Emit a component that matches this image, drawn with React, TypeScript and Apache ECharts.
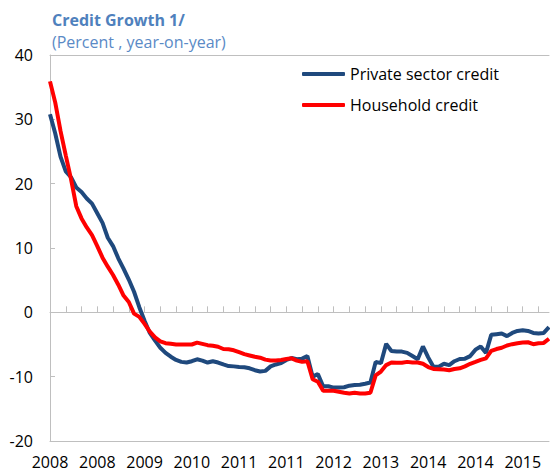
import React, { useEffect, useRef } from "react";
import * as echarts from "echarts";

const years: number[] = [2008, 2009, 2010, 2011, 2012, 2013, 2014, 2015];
const monthsPerYear = 12;
const categories: string[] = years.flatMap((y) => Array.from({ length: monthsPerYear }, () => String(y)));

const privateSectorCredit: number[] = [
  30.8, 27.8, 24.2, 21.9, 21.0, 19.4, 18.7, 17.7, 16.9, 15.4, 13.9, 11.6,
  10.3, 8.4, 6.8, 5.1, 3.2, 0.8, -1.3, -3.2, -4.4, -5.5, -6.3, -6.9,
  -7.4, -7.7, -7.8, -7.6, -7.3, -7.5, -7.8, -7.6, -7.8, -8.1, -8.35, -8.4,
  -8.5, -8.55, -8.7, -9.0, -9.2, -9.1, -8.4, -8.1, -7.9, -7.4, -7.1, -7.3,
  -7.2, -6.8, -10.0, -9.6, -11.5, -11.5, -11.7, -11.7, -11.65, -11.4, -11.3, -11.25,
  -11.1, -10.9, -7.7, -7.9, -4.9, -6.0, -6.1, -6.1, -6.3, -6.8, -7.3, -5.3,
  -7.0, -8.45, -8.45, -8.0, -8.2, -7.6, -7.25, -7.2, -6.8, -5.8, -5.3, -6.3,
  -3.5, -3.4, -3.3, -3.7, -3.2, -2.9, -2.8, -2.9, -3.2, -3.3, -3.2, -2.3,
];

const householdCredit: number[] = [
  35.9, 32.6, 28.2, 24.4, 20.7, 16.5, 14.6, 13.2, 12.0, 10.3, 8.5, 7.1,
  5.8, 4.3, 2.6, 1.6, -0.2, -0.7, -1.8, -3.0, -3.9, -4.5, -4.8, -4.9,
  -5.0, -5.0, -5.0, -5.0, -4.7, -4.9, -5.1, -5.2, -5.35, -5.7, -5.75, -5.9,
  -6.2, -6.5, -6.7, -6.9, -7.05, -7.35, -7.5, -7.5, -7.4, -7.25, -7.15, -7.5,
  -7.7, -7.6, -10.4, -10.8, -12.2, -12.2, -12.2, -12.35, -12.5, -12.6, -12.5, -12.6,
  -12.6, -12.5, -9.8, -9.2, -8.2, -7.8, -7.85, -7.85, -7.7, -7.8, -7.8, -8.0,
  -8.5, -8.8, -8.85, -8.9, -9.0, -8.8, -8.7, -8.4, -8.0, -7.7, -7.4, -7.15,
  -6.0, -5.7, -5.5, -5.15, -4.95, -4.8, -4.7, -4.65, -4.95, -4.8, -4.75, -4.1,
];

const seriesNames: string[] = ["Private sector credit", "Household credit"];
const titleText = "Credit Growth 1/";
const subtitleText = "(Percent , year-on-year)";

const FONT = "'Open Sans', 'Noto Sans', sans-serif";
const AXIS_GREY = "#BFBFBF";

export default function App() {
  const ref = useRef<HTMLDivElement>(null);

  useEffect(() => {
    if (!ref.current) return;
    const chart = echarts.init(ref.current, undefined, { renderer: "svg" });
    chart.setOption({
      animation: false,
      backgroundColor: "#ffffff",
      title: {
        text: titleText,
        subtext: subtitleText,
        left: 52,
        top: 12,
        itemGap: 6,
        padding: 0,
        textStyle: { fontFamily: FONT, fontSize: 16, fontWeight: "bold", color: "#4F81BD" },
        subtextStyle: { fontFamily: FONT, fontSize: 16, color: "#5A8AC6" },
      },
      legend: {
        orient: "vertical",
        left: 302,
        top: 66,
        itemWidth: 43,
        itemHeight: 4,
        itemGap: 15,
        icon: "roundRect",
        padding: 0,
        data: seriesNames,
        textStyle: { fontFamily: FONT, fontSize: 16, color: "#000000" },
      },
      grid: { left: 50, right: 1, top: 55, bottom: 33, containLabel: false },
      xAxis: [
        {
          type: "category",
          data: categories,
          boundaryGap: false,
          position: "bottom",
          axisLine: { show: true, onZero: false, lineStyle: { color: AXIS_GREY, width: 1 } },
          axisTick: { show: false },
          axisLabel: {
            interval: 8,
            margin: 13,
            lineHeight: 16,
            fontFamily: FONT,
            fontSize: 16,
            color: "#000000",
          },
          splitLine: { show: false },
        },
        {
          type: "category",
          data: categories,
          boundaryGap: false,
          position: "top",
          axisLine: { show: true, onZero: false, lineStyle: { color: AXIS_GREY, width: 1 } },
          axisTick: { show: false },
          axisLabel: { show: false },
          splitLine: { show: false },
        },
        {
          type: "category",
          data: categories,
          boundaryGap: false,
          position: "top",
          axisLine: { show: true, onZero: true, onZeroAxisIndex: 0, lineStyle: { color: AXIS_GREY, width: 1 } },
          axisTick: { show: true, interval: 2, length: 6, inside: false, lineStyle: { color: AXIS_GREY } },
          axisLabel: { show: false },
          splitLine: { show: false },
        },
      ],
      yAxis: {
        type: "value",
        min: -20,
        max: 40,
        interval: 10,
        axisLine: { show: true, onZero: false, lineStyle: { color: AXIS_GREY, width: 1 } },
        axisTick: { show: true, inside: true, length: 5, lineStyle: { color: AXIS_GREY } },
        axisLabel: { margin: 17, fontFamily: FONT, fontSize: 16, color: "#000000" },
        splitLine: { show: false },
      },
      series: [
        {
          name: seriesNames[0],
          type: "line",
          xAxisIndex: 0,
          data: privateSectorCredit,
          symbol: "none",
          lineStyle: { color: "#1F497D", width: 4 },
          itemStyle: { color: "#1F497D" },
          z: 3,
        },
        {
          name: seriesNames[1],
          type: "line",
          xAxisIndex: 0,
          data: householdCredit,
          symbol: "none",
          lineStyle: { color: "#FF0000", width: 4 },
          itemStyle: { color: "#FF0000" },
          z: 4,
        },
      ],
    });
    return () => chart.dispose();
  }, []);

  return (
    <div
      ref={ref}
      style={{ position: "fixed", left: 0, top: 0, width: 550, height: 474 }}
    />
  );
}
